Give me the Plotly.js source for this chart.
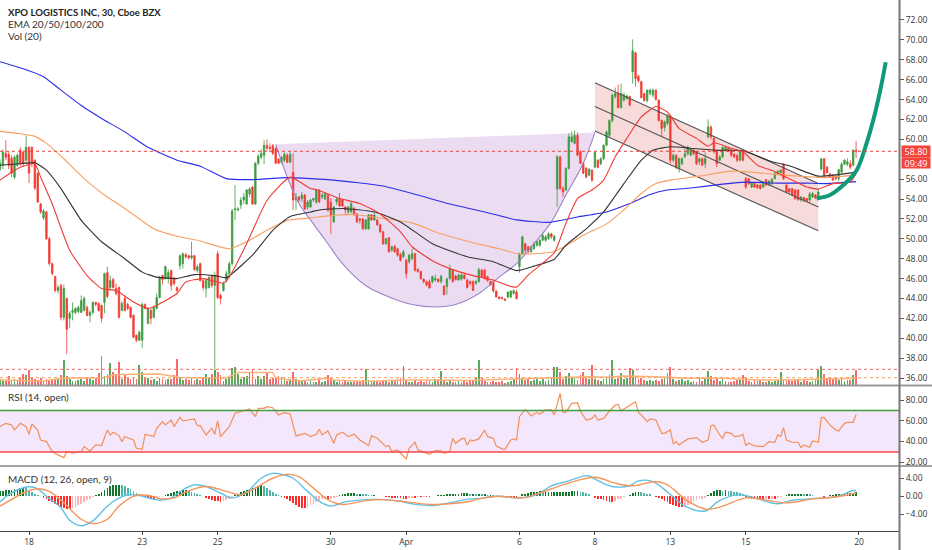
<!DOCTYPE html>
<html><head><meta charset="utf-8">
<script src="https://cdn.plot.ly/plotly-3.0.1.min.js"></script>
<style>html,body{margin:0;padding:0;background:#fff}#c{width:932px;height:550px}</style></head>
<body><div id="c"></div>
<script>
// candles: first line is the partial session, then one line per 13-bar session
const barOpen=[57.0,57.4,58.6,58.5,58.1,56.2,57.4,58.9,58.7,57.9,
59.2,59.2,57.9,56.6,53.5,52.1,52.7,50.0,47.5,46.2,44.8,45.3,42.1,
44.0,42.0,42.6,42.6,42.7,42.6,42.8,43.1,42.3,42.6,43.6,43.5,43.3,
43.6,46.6,45.1,45.9,45.0,45.1,42.8,44.0,43.4,43.1,42.3,40.3,39.8,
39.8,43.4,41.5,42.8,42.1,43.0,44.1,46.3,46.0,46.0,46.8,46.0,45.1,
47.3,47.5,48.4,48.3,48.1,48.3,46.8,47.5,45.8,45.0,45.1,46.3,45.3,
48.5,44.3,44.8,45.8,46.5,47.5,52.9,52.9,53.4,53.9,53.5,54.5,55.2,
53.5,57.6,58.2,58.4,59.4,59.2,59.4,59.1,58.0,57.7,57.9,58.4,57.7,
56.7,53.9,54.2,54.05,54.4,53.2,53.2,53.9,53.7,54.9,54.2,54.0,54.4,
53.7,51.7,53.7,54.0,53.9,53.2,52.7,52.7,53.05,52.5,52.0,52.0,51.0,
51.0,52.4,51.9,51.9,51.4,50.7,49.5,50.1,48.85,49.25,49.0,48.45,48.2,
47.85,47.7,48.0,48.5,46.95,46.7,45.95,45.7,45.7,45.7,45.85,45.95,45.7,
45.25,45.2,46.0,46.85,46.25,45.85,45.95,46.35,45.85,45.7,45.7,45.5,45.7,
46.85,46.85,46.2,45.7,45.7,44.75,44.15,44.1,43.95,44.15,44.15,44.5,44.65,
47.2,48.5,49.5,49.2,48.7,49.0,49.35,49.35,49.85,49.85,50.0,50.5,49.85,
55.0,58.25,55.05,54.9,57.05,59.75,59.6,60.4,58.75,57.6,57.1,56.4,56.9,
57.2,57.9,57.55,58.05,59.4,60.4,61.9,64.3,64.6,63.2,63.95,64.1,64.3,
66.8,68.7,66.35,65.8,64.6,63.9,64.6,64.45,64.95,63.95,61.9,61.2,61.6,
62.35,57.9,58.4,57.05,57.55,58.25,58.55,58.4,58.9,58.75,57.75,58.05,57.55,
60.25,61.25,60.1,58.85,57.9,58.25,58.9,59.1,58.9,58.5,58.4,57.9,58.75,
56.05,56.05,55.2,55.55,55.4,55.4,55.2,55.95,55.4,55.55,56.05,56.55,56.65,
57.5,55.4,55.05,55.05,54.9,54.9,53.9,54.15,54.05,53.9,54.2,54.4,54.2,
57.0,58.05,57.2,56.55,56.4,56.3,56.05,56.7,57.5,57.5,57.55,57.4,58.9];
const barHigh=[58.0,59.0,59.9,58.8,58.4,58.4,58.6,59.2,58.9,60.4,
59.3,59.3,58.0,56.7,53.6,53.0,52.8,50.2,47.6,46.3,45.4,45.5,45.4,
44.1,42.7,43.6,43.1,43.3,44.3,44.2,43.3,42.8,43.7,43.7,43.6,43.4,
46.6,47.2,46.3,46.1,45.5,45.2,43.7,44.2,43.6,43.2,42.4,40.4,40.8,
43.6,43.5,43.1,43.0,43.3,44.5,46.3,46.4,47.3,46.9,46.9,46.2,45.2,
48.4,48.6,48.6,48.4,49.7,48.4,47.4,47.6,45.9,46.0,46.3,46.4,46.7,
48.8,44.5,45.7,46.8,47.7,53.0,55.4,53.2,54.2,54.6,55.0,55.2,55.3,
57.7,58.5,59.0,59.9,60.0,59.6,59.5,59.2,58.1,58.3,58.7,58.6,58.7,
58.6,54.6,54.3,54.7,54.5,53.9,54.0,54.1,55.0,55.0,54.6,54.7,54.5,
54.1,53.3,54.2,54.6,54.0,53.3,53.3,53.7,53.2,52.6,52.1,52.1,52.0,
52.5,52.5,52.6,52.0,51.5,50.8,50.1,50.2,49.3,49.4,49.1,48.6,48.9,
48.0,48.5,49.0,48.6,47.0,46.8,46.0,45.8,45.9,46.3,46.4,46.0,46.4,
45.3,46.1,47.4,46.9,46.4,46.5,46.6,46.5,46.0,45.8,45.8,45.9,47.1,
47.0,47.0,46.3,45.8,45.8,44.8,44.2,44.2,44.0,44.7,44.8,44.9,44.9,
48.6,50.3,49.6,49.3,49.3,49.7,49.9,50.0,50.6,50.4,50.7,50.6,50.4,
58.4,58.3,55.3,57.2,60.6,60.8,60.9,60.7,58.9,57.7,57.2,57.1,57.0,
58.8,58.0,58.2,59.5,60.9,62.0,64.6,65.2,65.5,65.6,64.7,64.5,64.4,
70.05,68.8,66.5,65.9,64.7,65.0,65.1,65.1,65.0,64.0,62.0,61.9,62.5,
62.5,58.6,58.5,58.2,58.2,59.0,59.4,59.0,59.0,58.8,58.2,58.2,58.7,
62.0,61.4,60.2,59.0,58.4,59.3,59.3,59.2,59.0,58.6,58.5,58.9,58.9,
56.2,56.1,55.7,55.6,55.5,55.5,55.8,56.0,55.9,56.1,56.7,56.9,57.0,
57.6,55.5,55.1,55.1,55.0,55.0,54.3,54.2,54.1,54.7,54.7,54.5,55.0,
58.1,58.1,57.3,56.6,56.5,56.4,57.0,57.7,58.0,58.1,57.9,59.0,59.85];
const barLow=[56.8,57.0,57.9,57.0,56.2,56.0,57.2,57.3,57.2,57.6,
55.6,57.2,54.9,53.6,52.5,51.9,49.9,47.3,46.3,44.6,44.5,41.8,41.8,
38.4,41.0,41.8,42.4,42.5,42.6,42.7,42.2,41.6,42.4,43.2,42.7,41.6,
42.5,44.0,44.8,45.0,44.3,42.0,42.7,42.7,42.8,42.0,40.0,39.6,39.7,
39.0,42.9,41.4,41.4,42.0,42.9,44.0,45.4,45.9,45.5,44.8,45.3,44.5,
46.9,47.0,48.0,47.9,47.9,46.8,46.6,45.7,44.8,44.1,45.0,45.1,35.3,
43.9,43.4,44.7,45.6,46.4,47.3,51.9,52.8,53.0,53.5,53.4,54.2,53.4,
53.4,57.4,58.0,57.5,58.9,58.7,58.4,57.5,57.5,57.5,57.7,57.6,57.6,
52.9,52.9,53.7,53.7,52.9,52.9,53.1,53.7,53.5,53.6,54.0,53.9,52.7,
50.5,51.6,53.4,53.2,53.2,52.4,52.5,52.6,52.3,51.6,51.5,50.9,50.9,
50.9,51.8,51.8,51.3,50.6,49.4,49.4,48.6,48.7,48.6,48.2,47.7,48.1,
46.0,47.5,47.9,46.7,46.6,45.9,45.5,45.2,45.0,45.5,45.7,45.6,45.5,
44.3,44.4,45.9,45.6,45.8,45.8,45.8,45.9,45.0,45.3,44.8,45.4,45.6,
46.1,45.9,45.7,45.3,44.6,44.1,43.9,43.9,43.7,44.0,44.0,44.4,43.9,
46.6,48.4,48.4,48.5,48.6,48.9,49.2,49.2,49.8,49.7,49.9,50.0,49.7,
53.2,54.9,54.2,54.8,57.0,59.7,59.5,58.3,57.5,56.5,56.1,56.3,55.7,
57.1,57.1,57.4,57.9,59.3,60.2,61.7,64.1,63.1,63.1,63.8,64.0,63.3,
65.6,65.3,65.7,64.1,63.8,63.7,64.4,64.2,63.9,61.8,60.25,60.8,61.4,
57.6,57.7,57.0,56.65,57.4,58.1,58.4,58.3,58.4,57.4,57.4,57.3,57.1,
60.1,60.0,58.6,57.2,57.8,58.1,58.8,58.7,58.2,58.1,57.7,57.8,57.8,
55.0,55.4,55.1,55.1,55.0,54.95,55.1,55.3,55.3,55.4,56.0,56.4,56.6,
55.9,54.6,54.6,54.3,53.9,53.8,53.7,53.7,53.7,53.6,54.1,54.0,54.1,
56.9,56.2,56.6,56.1,55.8,55.9,55.8,56.6,57.4,57.3,57.0,57.3,58.1];
const barClose=[57.6,58.7,58.2,57.4,56.6,58.2,58.4,57.6,57.6,59.2,
56.6,57.6,55.1,53.7,52.7,52.8,50.0,47.5,46.5,44.8,45.1,42.1,45.0,
40.9,42.5,42.8,43.0,43.1,43.8,44.0,42.3,42.6,43.6,43.4,42.8,42.0,
46.5,44.2,45.8,45.1,44.5,42.1,43.5,42.8,43.0,42.1,40.1,39.8,40.6,
43.4,43.0,43.0,42.0,43.1,44.1,46.1,45.9,47.2,46.6,45.3,45.5,44.8,
48.3,48.5,48.2,48.1,48.3,46.9,47.2,45.8,45.1,45.8,46.1,45.3,46.3,
44.1,44.0,45.5,46.5,47.5,52.8,53.0,53.0,53.9,54.2,54.9,55.0,53.5,
57.6,58.3,58.6,59.4,59.1,59.1,58.6,57.6,57.6,58.2,58.5,57.7,58.5,
53.9,54.2,53.9,54.4,53.0,53.7,53.9,54.05,54.9,53.7,54.4,54.55,52.9,
52.4,53.2,54.0,53.3,53.3,52.9,53.2,53.55,52.5,51.7,51.9,51.0,51.9,
52.4,51.9,52.4,51.4,50.7,49.5,50.0,48.7,49.2,48.7,48.35,47.85,48.7,
46.5,48.35,48.5,46.85,46.7,46.0,45.7,45.35,45.05,46.2,46.0,45.7,46.2,
44.4,45.95,46.95,45.7,45.9,46.35,46.35,46.0,45.1,45.5,44.8,45.7,46.9,
46.2,46.0,45.8,45.35,44.75,44.15,44.0,44.0,43.85,44.65,44.75,44.8,44.0,
48.5,50.2,48.85,48.7,49.2,49.5,49.7,49.85,50.35,50.2,50.5,50.2,50.25,
58.25,55.05,54.7,57.05,60.25,60.25,60.4,58.4,57.6,56.6,56.2,57.0,55.9,
58.7,57.2,58.05,59.4,60.75,61.9,64.45,64.6,63.2,64.6,64.45,64.35,63.45,
68.9,66.1,65.9,64.2,63.9,64.95,64.95,64.95,64.0,61.9,61.1,61.75,62.35,
57.9,58.4,57.2,58.05,58.05,58.55,59.2,58.9,58.55,57.55,58.05,57.4,58.05,
61.25,60.25,58.75,57.55,58.25,59.2,59.2,58.85,58.4,58.25,57.9,58.75,57.9,
55.2,55.55,55.6,55.2,55.15,55.05,55.7,55.4,55.8,56.0,56.55,56.8,56.9,
56.05,54.7,54.7,54.4,54.05,53.95,54.2,53.9,53.8,54.5,54.55,54.1,54.7,
58.05,56.4,56.65,56.2,55.9,56.05,56.95,57.5,57.9,57.75,57.2,58.9,58.8];
const volume=[60,40,50,90,40,60,50,70,110,100,
150,80,60,50,70,40,60,50,60,50,70,100,250,
90,60,40,40,50,60,40,80,60,50,70,120,290,
90,110,220,130,100,230,60,110,70,60,80,60,200,
130,80,70,50,60,40,70,60,50,60,60,100,260,
80,50,60,50,70,50,60,50,70,110,70,110,150,
130,100,40,60,70,170,180,110,60,80,90,120,160,
60,90,60,90,120,60,70,80,90,80,60,40,50,
130,60,50,40,40,30,50,30,30,60,30,40,100,
70,50,30,40,30,40,30,30,30,30,30,50,160,
50,30,40,40,30,50,40,30,40,50,60,70,190,
50,30,30,50,30,40,30,50,40,30,60,50,140,
50,30,40,30,30,40,30,40,30,40,50,80,250,
70,40,30,30,40,30,30,40,20,30,40,60,170,
110,60,50,70,40,50,70,40,60,40,50,70,180,
180,130,60,90,120,80,70,50,100,130,70,60,200,
60,50,40,60,80,100,250,60,70,120,60,70,170,
150,80,60,70,50,40,50,40,50,40,60,70,120,
180,60,40,50,60,40,50,30,40,30,80,40,60,
140,90,50,60,40,70,40,30,30,40,50,50,100,
70,40,30,50,40,50,30,30,40,30,40,50,130,
60,40,50,40,50,50,30,60,40,30,40,50,150,
190,110,70,80,60,70,50,60,40,50,50,100,150];
const macdHist=[1.1,1.2,1.3,1.4,1.5,1.6,1.7,1.8,1.9,1.8,
1.2,.9,.6,.3,.1,-.3,-.7,-1.0,-1.3,-1.6,-2,-2.3,-2.6,
-2.9,-2.9,-2.7,-2.3,-2,-1.7,-1.3,-.9,-.5,-.2,.2,.6,1,
1.4,1.8,2.2,2.5,2.5,2.5,2.4,2.2,1.9,1.6,1.2,.8,.5,
.2,-.2,-.4,-.5,-.5,-.4,-.2,-.1,.2,.5,.8,1,1.1,
1.2,1.3,1.3,1.2,1,.8,.5,.2,0,-.3,-.6,-.8,-1,
-1.1,-1.2,-1.1,-.8,-.5,-.1,.3,.6,1,1.2,1.5,1.7,1.9,
2.1,2.3,2.4,2.2,1.8,1.4,1,.6,.2,-.2,-.4,-.7,-1,
-1.5,-1.9,-2.3,-2.6,-2.6,-2.3,-2,-1.6,-1.2,-.9,-.7,-.6,-.6,
-.5,-.3,-.1,.3,.5,.6,.7,.7,.7,.6,.6,.5,.4,
.3,.2,.2,.1,.1,0,-.1,-.2,-.3,-.3,-.4,-.4,-.5,
-.5,-.4,-.3,-.3,-.2,-.2,-.1,-.1,-.1,0,.1,.2,.3,
.3,.4,.4,.5,.6,.6,.7,.7,.7,.6,.6,.5,.5,
.4,.4,.3,.3,.2,.1,.1,0,-.1,-.1,-.1,-.2,-.2,
.1,.4,.6,.8,.9,1,1,1.1,1,1,1,1,1,
1,1,1,1,1,1.1,1.1,1.1,1,.9,.8,.5,.1,
-.4,-.5,-.7,-.8,-1,-1.2,-1.3,-1,-.7,-.5,-.2,0,.3,
.7,.9,1,.9,.8,.6,.4,.1,-.1,-.4,-.7,-1,-1.3,
-1.6,-1.9,-2.2,-2.4,-2.4,-2.2,-2,-1.6,-1.2,-.9,-.7,-.5,-.3,
.3,.8,1.1,1.3,1.3,1.2,1.3,1.2,1.1,1,.9,.7,.5,
-.1,-.3,-.5,-.6,-.7,-.7,-.7,-.6,-.6,-.5,-.5,-.4,-.2,
.1,.3,.5,.5,.6,.6,.6,.5,.5,.4,.2,.1,.1,
0,-.1,.1,.2,.3,.4,.4,.5,.6,.7,.7,.8,.9];

const ema200Bars=[0,9,15,21,28,35,43,51,61,69,78,87,99,107,115,132,144,155,167,178,189,199,209,217,224,230,238,249,257,268,278,284,295];
const ema200=[67.8,67.0,66.3,64.95,63.4,62.1,60.75,59.2,57.9,57.3,56.05,55.95,56.15,56.05,55.9,55.3,54.4,53.5,52.7,51.9,51.65,52.2,52.7,53.55,54.45,54.9,55.1,55.5,55.7,55.6,55.6,55.55,55.75];
const ema100Bars=[0,6,12,16,22,29,36,44,53,61,68,75,79,85,92,99,107,113,122,132,142,152,163,172,179,184,191,195,201,209,215,221,226,231,241,252,261,270,278,284,295];
const ema100=[60.8,60.6,60.3,59.6,58.05,56.05,54.4,52.85,51,50.25,49.85,49.25,49,49.7,50.85,51.85,52.1,52.3,52.45,52.05,51.6,50.5,49.6,49,48.45,48.5,48.7,49.3,50.35,51.5,52.9,54.55,55.55,55.9,56.3,56.8,56.65,56.4,56.25,56.15,56.4];
const ema50Bars=[0,7,12,16,21,28,35,43,49,54,61,67,74,78,80,87,94,100,107,110,118,129,138,149,161,170,178,184,191,195,202,208,215,221,225,231,238,247,256,266,272,282,295];
const ema50=[57.4,57.55,57.65,56.9,55.05,51.85,49.7,48,46.65,46.15,46,46.4,46.3,46.1,46.5,48.35,50.85,52.25,52.7,52.9,53.05,52.7,51.7,49.5,48.2,47.7,46.8,47.25,47.95,49.35,51,52.7,55.55,57.9,58.9,59.25,59.1,58.9,58.85,57.75,57.35,56.3,56.7];
const ema20Bars=[0,5,9,12,14,18,24,30,35,40,46,51,54,61,64,70,77,79,85,92,100,107,109,117,124,131,138,142,149,155,163,170,175,178,182,191,195,199,204,208,212,216,221,226,230,234,240,244,246,252,256,261,267,272,278,282,287,293,295];
const ema20=[55.9,56.9,57.4,57.55,56.2,53.5,48.85,46.3,45,44.8,43.65,43,43.3,44.5,45.65,46,45.55,46.15,49.5,53.85,56.2,55.05,54.95,54.05,53.55,52.5,50.7,49.2,47.8,47,46.3,45.85,45.3,45.15,46.35,48.6,51.55,54.05,54.9,55.9,58.25,60.1,62.25,63.3,62.75,61.1,60.1,59.3,59.65,59.1,58.75,57.4,56.75,56.05,55.2,55,55.55,55.7,56.6];
const cupBars=[95,99,103,107,113,118,126,134,142,150,157,165,172,178,184,190,195,201,205];
const cupPrice=[59.5,56.2,53.55,51.9,49.5,47.5,45.3,44.15,43.4,43.15,43.4,44.5,46.15,47.5,49.5,51.7,54.4,57.6,60.7];
const channelBars=[205,282];
const channelTop=[65.7,55.55];
const channelMid=[63.3,53.2];
const channelLow=[60.85,50.8];
const curveBars=[281.4,286,290.6,295.2,298.6,301.5,303.8,305.2];
const curvePrice=[54.05,54.4,55.4,56.9,59.6,62.6,65.6,67.75];
const volMaBars=[0,15,22,35,40,55,62,78,82,94,95,103,112,115,126,138,149,161,177,184,195,203,210,215,226,238,249,261,272,283,295];
const volMa=[50,40,70,70,105,110,75,70,125,125,70,40,65,50,35,50,50,45,60,65,75,83,77,90,83,67,67,50,50,57,67];
const rsiBars=[0,2,4,5,7,9,10,11,13,14,16,18,20,22,23,25,28,29,31,33,35,37,38,39,41,42,43,46,47,49,50,53,54,56,57,59,60,62,63,67,68,69,71,73,74,75,76,79,81,83,86,88,89,91,92,94,96,98,100,102,105,107,109,110,111,113,115,116,118,120,122,124,127,128,130,133,134,135,137,138,140,141,143,144,148,150,152,153,155,156,157,159,160,161,162,163,165,167,168,170,171,173,174,176,177,178,179,181,183,185,186,188,190,191,192,193,194,195,197,199,200,202,204,205,206,208,210,212,213,214,215,217,219,220,221,223,224,226,228,229,231,232,233,234,237,240,242,244,245,246,248,249,250,252,253,255,256,257,258,260,263,265,267,268,269,270,271,273,275,276,277,279,280,282,283,284,286,288,289,291,292,294,295];
const rsiValue=[54.3,57.5,55.9,51.1,57.5,54.3,47,56.9,51.1,41.5,39.9,30.3,27.1,24.5,30.3,28.7,30.3,35.1,30.9,36.7,36.1,51.1,46.3,48.9,45.7,39.9,44.7,41.5,33.5,32.5,47,44.7,52.7,59.1,55.9,60.7,54.3,63.3,59.8,61.7,55.3,55.3,46.3,52.7,47,59.8,44.7,54.3,67.2,68.8,71.3,64,72,72,73.6,72.6,65.6,67.8,66.5,45.4,47.9,44.7,47,51.8,46.3,50.2,38.3,46.3,48.9,44.7,47,41.5,36.1,45.7,43.1,35.1,36.1,30.3,31.9,28.7,23.2,33.5,39.3,31.9,27.7,31.3,31,28.7,30.3,43.1,38.3,42.5,43.1,36.7,41.5,40.6,42.5,51.1,44.7,43.1,35.7,32.9,32.2,41.5,42.5,41.5,63.9,71,64.6,68.1,66.2,70.4,70.4,65.6,76.8,86.4,68.1,68.1,76.8,77.4,69.4,60.7,62.3,65.6,60.7,62.3,69.4,75.2,75.8,69.4,71.3,75.2,78.4,68.1,65.6,59.1,61.7,60.7,47.9,47.9,51.1,37.7,39.9,36.7,42.5,43.8,39.3,41.5,55.3,55.9,46.3,43.1,48.9,47.9,44.7,45.4,47,36.1,38.3,35.7,35.1,39.9,39.3,46.3,44.7,53.4,41.5,39.3,39.3,34.1,36.7,34.5,40.6,39.3,63.3,63,55.9,51.1,50.2,57.5,58.5,58.5,66.2];
const macdBars=[0,3,7,10,13,16,21,24,28,32,37,40,45,48,52,55,59,63,67,71,76,80,85,90,94,98,101,106,110,114,119,126,132,138,142,149,155,162,165,171,179,185,190,196,202,203.4,205,211,217,220,225,230.4,236,243,247.6,254.5,260,268,273,280,289,293.6,295];
const macdLine=[-1.24,.36,1.67,2.11,1.67,0,-2.55,-5.31,-6.55,-5.45,-2.18,-.73,.36,.15,-.51,-.87,-.36,1.45,2.55,2.18,.73,-.36,.95,4,5.09,4.73,4,1.09,-1.09,-2.18,-1.24,-.73,-.73,-1.09,-1.67,-2.04,-1.45,-.58,-.51,0,-.36,.36,2.33,3.42,4.58,4.44,3.85,2.18,2.33,3.42,3.27,.73,-2.18,-3.27,-1.09,.36,-.36,-1.67,-.87,-.51,0,1.24,1.24];
const signalBars=[0,3,8,13,17,22,28,32,37,41,46,51,55,60,64,71,78,83,88,94,99,103,108,113,118,126,132,140,149,155,162,165,172,180,186,194,205,212,218,226,230,237,243.6,249,257,265,271,280,288,295];
const signalLine=[-2.18,-1.09,.73,1.67,1.09,-1.45,-5.09,-6.04,-5.09,-2.18,0,.22,-.51,-.36,.95,2.18,1.09,.36,1.82,4,4.87,4.36,1.82,-.73,-1.82,-.95,-.73,-1.24,-1.82,-1.67,-1.09,-.58,0,-.36,.73,2.55,4.22,2.91,2.33,3.27,2.55,-1.09,-2.91,-2.18,-.36,-.95,-1.45,-.58,-.15,.73];
const sessionBars=[10,49,75,114,140,179,205,231,257,296];
const sessionLabels=['18','23','25','30','Apr','6','8','13','15','20'];
const priceTicks=[36,38,40,42,44,46,48,50,52,54,56,60,62,64,66,68,70,72];
const lastPrice=58.8;
const rsiUpper=70, rsiLower=30, volLevelHigh=157, volLevelLow=73;

const barNo=barOpen.map((_,i)=>i);
const W=899,H=531;
const up='#3d9a40',dn='#f23a32';
const pX=p=>p/W, pY=p=>(H-p)/H;
const polyPath=(xs,ys)=>xs.map((x,i)=>(i?'L':'M')+x+','+ys[i]).join(' ')+' Z';
const lineT=(x,y,color,w,extra)=>Object.assign({type:'scatter',mode:'lines',x,y,line:{color,width:w},hoverinfo:'skip',showlegend:false},extra||{});
const volColor=barNo.map(i=>barClose[i]>=barOpen[i]?'rgba(61,154,64,.85)':'rgba(240,70,70,.8)');
const histColor=macdHist.map((v,i)=>{const pv=i?macdHist[i-1]:v;return v>=0?(v>=pv?'#11762a':'#4db6a6'):(v<=pv?'#ff2a2a':'#ffb0b0');});

const traces=[
 {type:'candlestick',x:barNo,open:barOpen,high:barHigh,low:barLow,close:barClose,xaxis:'x',yaxis:'y',
  increasing:{line:{color:up,width:.8},fillcolor:up},decreasing:{line:{color:dn,width:.8},fillcolor:dn},
  whiskerwidth:0,hoverinfo:'skip',showlegend:false},
 lineT(cupBars,cupPrice,'#9a82c8',1.1,{line:{color:'#9a82c8',width:1.1,shape:'spline'}}),
 lineT(channelBars,channelTop,'#555',1.1),
 lineT(channelBars,channelMid,'#555',1.1),
 lineT(channelBars,channelLow,'#555',1.1),
 lineT(ema200Bars,ema200,'#2a2ee6',1.1,{line:{color:'#2a2ee6',width:1.1,shape:'spline',smoothing:.5}}),
 lineT(ema100Bars,ema100,'#f7a063',1.1,{line:{color:'#f7a063',width:1.1,shape:'spline',smoothing:.5}}),
 lineT(ema50Bars,ema50,'#333',1.1,{line:{color:'#333',width:1.1,shape:'spline',smoothing:.5}}),
 lineT(ema20Bars,ema20,'#ee3b34',1.1,{line:{color:'#ee3b34',width:1.1,shape:'spline',smoothing:.5}}),
 lineT(curveBars,curvePrice,'#0f9b7a',4,{line:{color:'#0f9b7a',width:4,shape:'spline'}}),
 {type:'bar',x:barNo,y:volume,xaxis:'x',yaxis:'y4',marker:{color:volColor,line:{width:0}},width:.6,hoverinfo:'skip',showlegend:false},
 lineT(volMaBars,volMa,'#f9b27c',1.4,{yaxis:'y4'}),
 lineT(rsiBars,rsiValue,'#f2905a',1.2,{yaxis:'y2'}),
 {type:'bar',x:barNo,y:macdHist,xaxis:'x',yaxis:'y3',marker:{color:histColor,line:{width:0}},width:.6,hoverinfo:'skip',showlegend:false},
 lineT(macdBars,macdLine,'#62c0e4',1.4,{yaxis:'y3',line:{color:'#62c0e4',width:1.4,shape:'spline'}}),
 lineT(signalBars,signalLine,'#f5955a',1.4,{yaxis:'y3',line:{color:'#f5955a',width:1.4,shape:'spline'}})
];
const axisFont={family:'"Open Sans",sans-serif',size:8.5,color:'#333'};
const textFont={family:'Lato,sans-serif',size:10,color:'#333'};
const titleFont={family:'Lato,sans-serif',size:9.6,color:'#222'};
const note=(text,px,py,font)=>({text,xref:'paper',yref:'paper',x:pX(px),y:pY(py),xanchor:'left',yanchor:'middle',showarrow:false,font:font||textFont});
const hline=(yref,v,color,w,dash)=>({type:'line',xref:'paper',x0:0,x1:1,yref,y0:v,y1:v,line:{color,width:w,dash:dash||'solid'},layer:'above'});
const edge=(py,color,w)=>({type:'line',xref:'paper',yref:'paper',x0:0,x1:933/W,y0:pY(py),y1:pY(py),line:{color,width:w},layer:'above'});
const layout={
 width:932,height:550,margin:{l:0,r:33,t:0,b:19},paper_bgcolor:'#fff',plot_bgcolor:'#fff',showlegend:false,
 bargap:0,barmode:'overlay',
 xaxis:{range:[0,W/2.902],showgrid:false,zeroline:false,tickmode:'array',tickvals:sessionBars,ticktext:sessionLabels,
  ticks:'outside',ticklen:3,tickcolor:'#444',tickfont:axisFont,showline:true,linecolor:'#444',linewidth:1,rangeslider:{visible:false},anchor:'y3',fixedrange:true},
 yaxis:{domain:[pY(385),1],range:[35.3,74.01],side:'right',tickmode:'array',tickvals:priceTicks,ticktext:priceTicks.map(v=>v.toFixed(2)),
  ticks:'outside',ticklen:4,tickcolor:'#555',tickfont:axisFont,showgrid:false,zeroline:false},
 yaxis4:{overlaying:'y',range:[0,3850],visible:false,fixedrange:true},
 yaxis2:{domain:[pY(466),pY(386)],range:[16.4,93.5],side:'right',tickmode:'array',tickvals:[20,40,60,80],ticktext:['20.00','40.00','60.00','80.00'],
  ticks:'outside',ticklen:4,tickcolor:'#555',tickfont:axisFont,showgrid:false,zeroline:false,anchor:'x'},
 yaxis3:{domain:[0,pY(467)],range:[-7.7,6.5],side:'right',tickmode:'array',tickvals:[-4,0,4],ticktext:['\u22124.00','0.00','4.00'],
  ticks:'outside',ticklen:4,tickcolor:'#555',tickfont:axisFont,showgrid:false,zeroline:false,anchor:'x'},
 shapes:[
  {type:'path',path:polyPath(cupBars,cupPrice),xref:'x',yref:'y',fillcolor:'#ecdcf1',line:{width:0},layer:'below'},
  {type:'path',path:polyPath([channelBars[0],channelBars[1],channelBars[1],channelBars[0]],[channelTop[0],channelTop[1],channelLow[1],channelLow[0]]),xref:'x',yref:'y',fillcolor:'#f7dada',line:{width:0},layer:'below'},
  {type:'rect',xref:'paper',x0:0,x1:1,yref:'y2',y0:rsiLower,y1:rsiUpper,fillcolor:'#f4e6fb',line:{width:0},layer:'below'},
  hline('y',lastPrice,'#e8403a',1,'dot'),
  hline('y2',rsiUpper,'#3f9f3f',1.5),
  hline('y2',rsiLower,'#f4474a',1.5),
  hline('y4',volLevelHigh,'#f06a6a',1,'dot'),
  hline('y4',volLevelLow,'#f7a063',1,'dot'),
  edge(385.5,'#999',2),
  edge(466,'#444',1),
  {type:'line',xref:'paper',yref:'paper',x0:899.5/W,x1:899.5/W,y0:-19/H,y1:1,line:{color:'#777',width:2},layer:'above'}
 ],
 annotations:[
  note('<b>XPO LOGISTICS INC, 30, Cboe BZX</b>',6,12,titleFont),
  note('EMA 20/50/100/200',6,24),
  note('Vol (20)',6,36),
  note('RSI (14, open)',6,397),
  note('MACD (12, 26, open, 9)',6,479),
  {text:'58.80',xref:'paper',yref:'y',x:901/W,y:lastPrice,xanchor:'left',yanchor:'middle',showarrow:false,bgcolor:'#f4433c',borderpad:0,
   font:{family:axisFont.family,size:9,color:'#fff'},width:28,height:11},
  {text:'09:49',xref:'paper',yref:'y',x:901/W,y:lastPrice,yshift:-12,xanchor:'left',yanchor:'middle',showarrow:false,bgcolor:'#f4433c',borderpad:0,
   font:{family:axisFont.family,size:9,color:'#fff'},width:28,height:10}
 ]
};
Plotly.newPlot('c',traces,layout,{displayModeBar:false,staticPlot:true});
</script></body></html>
